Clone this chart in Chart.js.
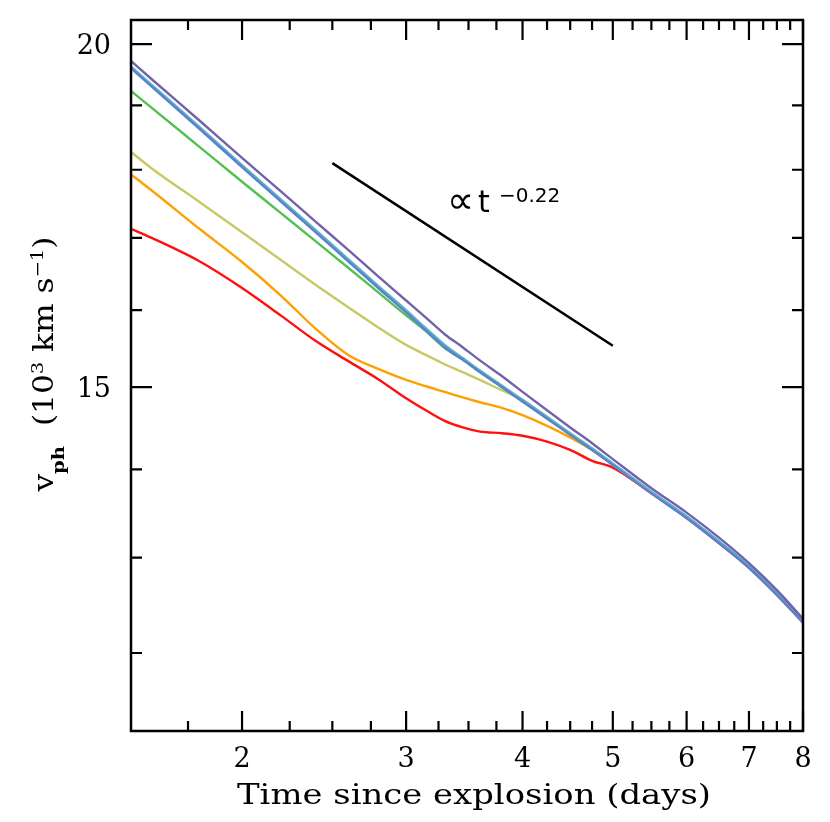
<!DOCTYPE html>
<html>
<head>
<meta charset="utf-8">
<script src="https://cdn.jsdelivr.net/npm/chart.js@4/dist/chart.umd.min.js"></script>
<style>
  html, body { margin: 0; padding: 0; background: #fff; }
  #wrap { width: 830px; height: 822px; }
</style>
</head>
<body>
<div id="wrap"><canvas id="velChart" width="830" height="822"></canvas></div>
<script>
// time since explosion (days), log axis
const tDays = [1.52, 1.6, 1.8, 2.0, 2.2, 2.4, 2.6, 2.8, 3.0, 3.15, 3.3, 3.45, 3.6, 3.8, 4.0, 4.25, 4.5, 4.75, 5.0, 5.5, 6.0, 6.5, 7.0, 7.5, 8.0];

// photospheric velocity, 10^3 km/s
const vPurple = [19.72, 19.42, 18.76, 18.18, 17.68, 17.23, 16.83, 16.46, 16.13, 15.90, 15.68, 15.51, 15.34, 15.14, 14.94, 14.71, 14.50, 14.31, 14.12, 13.78, 13.50, 13.22, 12.94, 12.65, 12.35];
const vBlue   = [19.60, 19.30, 18.63, 18.04, 17.53, 17.08, 16.67, 16.30, 15.97, 15.73, 15.51, 15.35, 15.19, 15.00, 14.82, 14.61, 14.41, 14.23, 14.05, 13.72, 13.44, 13.16, 12.89, 12.60, 12.31];
const vTeal   = [19.63, 19.33, 18.66, 18.07, 17.56, 17.11, 16.70, 16.33, 16.00, 15.76, 15.54, 15.37, 15.21, 15.02, 14.84, 14.63, 14.43, 14.25, 14.07, 13.74, 13.46, 13.18, 12.91, 12.62, 12.33];
const vGreen  = [19.23, 18.96, 18.35, 17.82, 17.36, 16.95, 16.58, 16.24, 15.93, 15.72, 15.50, 15.35, 15.19, 15.00, 14.82, 14.61, 14.42, 14.24, 14.06, 13.73, 13.45, 13.17, 12.90, 12.61, 12.32];
const vYellow = [18.27, 18.02, 17.52, 17.08, 16.69, 16.34, 16.04, 15.77, 15.54, 15.41, 15.29, 15.19, 15.09, 14.96, 14.84, 14.62, 14.42, 14.24, 14.06, 13.73, 13.45, 13.17, 12.90, 12.61, 12.32];
const vOrange = [17.93, 17.69, 17.13, 16.66, 16.20, 15.75, 15.41, 15.23, 15.09, 15.01, 14.94, 14.87, 14.81, 14.74, 14.65, 14.52, 14.38, 14.23, 14.05, 13.73, 13.45, 13.17, 12.90, 12.61, 12.32];
const vRed    = [17.13, 17.00, 16.67, 16.30, 15.93, 15.59, 15.33, 15.10, 14.86, 14.71, 14.58, 14.50, 14.45, 14.43, 14.40, 14.33, 14.23, 14.10, 14.02, 13.72, 13.44, 13.16, 12.89, 12.60, 12.31];

// reference power law segment
const slopeT = [2.5, 5.0];
const slopeV = [18.10, 15.53];

const xMajor = [2, 3, 4, 5, 6, 7, 8];
const xMinor = [1.75, 2.25, 2.5, 2.75, 3.25, 3.5, 3.75, 4.25, 4.5, 4.75, 5.25, 5.5, 5.75, 6.25, 6.5, 6.75, 7.25, 7.5, 7.75];
const yMajor = [15, 20];
const yMinor = [12, 13, 14, 16, 17, 18, 19];

const toPoints = function (xs, ys) {
    let pts = [];
    for (var i = 0; i < xs.length; i++) {
        pts.push({x: xs[i], y: ys[i]});
    }
    return pts;
};

const curve = function (values, color) {
    return {
        data: toPoints(tDays, values),
        borderColor: color,
        borderWidth: 2.4,
        pointRadius: 0,
        cubicInterpolationMode: 'monotone',
        fill: false
    };
};

const serif = '"DejaVu Serif", "Liberation Serif", serif';
const sans = '"DejaVu Sans", sans-serif';

// draw text squeezed/stretched to a given width
const fitText = function (ctx, text, cx, y, width) {
    const w = ctx.measureText(text).width;
    ctx.save();
    ctx.translate(cx, y);
    ctx.scale(width / w, 1);
    ctx.textAlign = 'center';
    ctx.fillText(text, 0, 0);
    ctx.restore();
};

// frame, inward ticks on four sides, labels and the annotation
const framePlugin = {
    id: 'framePlugin',
    afterDatasetsDraw(chart) {
        const ctx = chart.ctx;
        const a = chart.chartArea;
        const xs = chart.scales.x, ys = chart.scales.y;
        ctx.save();
        ctx.strokeStyle = '#000';
        ctx.fillStyle = '#000';
        ctx.lineWidth = 2.5;
        ctx.strokeRect(a.left, a.top, a.right - a.left, a.bottom - a.top);

        ctx.lineWidth = 2.2;
        ctx.beginPath();
        const xTick = function (v, len) {
            const p = xs.getPixelForValue(v);
            ctx.moveTo(p, a.bottom); ctx.lineTo(p, a.bottom - len);
            ctx.moveTo(p, a.top); ctx.lineTo(p, a.top + len);
        };
        const yTick = function (v, len) {
            const p = ys.getPixelForValue(v);
            ctx.moveTo(a.left, p); ctx.lineTo(a.left + len, p);
            ctx.moveTo(a.right, p); ctx.lineTo(a.right - len, p);
        };
        xMajor.forEach(v => xTick(v, 20));
        xMinor.forEach(v => xTick(v, 10));
        yMajor.forEach(v => yTick(v, 21));
        yMinor.forEach(v => yTick(v, 11));
        ctx.stroke();

        // tick labels
        ctx.font = '27px ' + serif;
        ctx.textBaseline = 'alphabetic';
        ctx.textAlign = 'center';
        xMajor.forEach(v => ctx.fillText(String(v), xs.getPixelForValue(v), 767));
        ctx.textAlign = 'right';
        yMajor.forEach(v => ctx.fillText(String(v), 111, ys.getPixelForValue(v) + 10));

        // x title
        ctx.font = '27px ' + serif;
        fitText(ctx, 'Time since explosion (days)', 474, 804, 474);

        // y title, rotated, with sub/superscripts
        const parts = [
            {t: 'v', f: '27px ' + serif, dy: 0},
            {t: 'ph', f: 'bold 17px ' + serif, dy: 11},
            {t: '  (10', f: '27px ' + serif, dy: 0},
            {t: '3', f: '17px ' + serif, dy: -10},
            {t: ' km s', f: '27px ' + serif, dy: 0},
            {t: '\u22121', f: '17px ' + serif, dy: -10},
            {t: ')', f: '27px ' + serif, dy: 0}
        ];
        let total = 0;
        parts.forEach(p => { ctx.font = p.f; p.w = ctx.measureText(p.t).width; total += p.w; });
        ctx.save();
        ctx.translate(53, 364);
        ctx.rotate(-Math.PI / 2);
        ctx.scale(255 / total, 1);
        ctx.textAlign = 'left';
        let x = -total / 2;
        parts.forEach(p => { ctx.font = p.f; ctx.fillText(p.t, x, p.dy); x += p.w; });
        ctx.restore();

        // power law annotation
        ctx.textAlign = 'left';
        ctx.font = '38px ' + sans;
        ctx.fillText('\u221d', 447, 213);
        ctx.font = '30px ' + sans;
        ctx.fillText('t', 478, 212);
        ctx.font = '20px ' + sans;
        ctx.fillText('\u22120.22', 499, 202);
        ctx.restore();
    }
};

new Chart(document.getElementById('velChart'), {
    type: 'line',
    data: {
        datasets: [
            curve(vPurple, '#7262aa'),
            curve(vBlue, '#5a82d0'),
            curve(vTeal, '#5cb6c4'),
            curve(vGreen, '#52c052'),
            curve(vYellow, '#c8c864'),
            curve(vOrange, '#ffa000'),
            curve(vRed, '#ff1010'),
            {
                data: toPoints(slopeT, slopeV),
                borderColor: '#000',
                borderWidth: 2.5,
                pointRadius: 0,
                fill: false
            }
        ]
    },
    options: {
        responsive: false,
        animation: false,
        layout: {padding: {left: 131, right: 27, top: 20, bottom: 91}},
        scales: {
            x: {type: 'logarithmic', min: 1.52, max: 8, display: false},
            y: {type: 'logarithmic', min: 11.24, max: 20.41, display: false}
        },
        plugins: {
            legend: {display: false},
            tooltip: {enabled: false}
        }
    },
    plugins: [framePlugin]
});
</script>
</body>
</html>
